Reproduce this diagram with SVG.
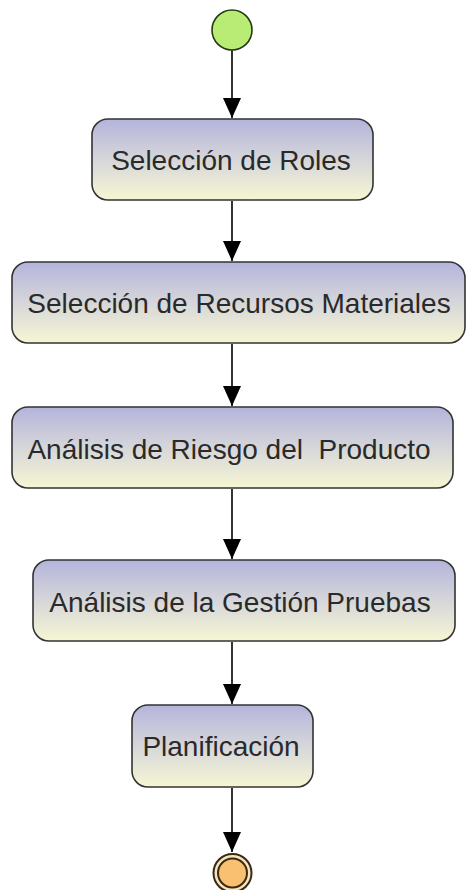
<svg xmlns="http://www.w3.org/2000/svg" width="467" height="890" viewBox="0 0 467 890">
<defs>
<linearGradient id="g" x1="0" y1="0" x2="0" y2="1">
<stop offset="0" stop-color="#b4b4dc"/>
<stop offset="0.5" stop-color="#d6d6da"/>
<stop offset="1" stop-color="#f6f6d4"/>
</linearGradient>
<marker id="ah" markerWidth="20" markerHeight="18" refX="20" refY="9" orient="auto" markerUnits="userSpaceOnUse" viewBox="0 0 20 18">
<path d="M0,0 L20,9 L0,18 Z" fill="#000"/>
</marker>
</defs>
<style>
.box{fill:url(#g);stroke:#333;stroke-width:1.6}
.lbl{font-family:"Liberation Sans",Arial,sans-serif;font-size:28px;fill:#2a2a2a;text-anchor:middle}
.con{stroke:#000;stroke-width:1.6;fill:none}
</style>
<rect width="467" height="890" fill="#fff"/>
<g id="connectors">
<path class="con" d="M232,50 V118" marker-end="url(#ah)"/>
<path class="con" d="M232,201 V261" marker-end="url(#ah)"/>
<path class="con" d="M232,344 V406" marker-end="url(#ah)"/>
<path class="con" d="M232,489 V559" marker-end="url(#ah)"/>
<path class="con" d="M232,642 V704" marker-end="url(#ah)"/>
<path class="con" d="M232,788 V852" marker-end="url(#ah)"/>
</g>
<g id="start">
<circle cx="232" cy="30" r="20" fill="#b8ec74" stroke="#253a12" stroke-width="1.6"/>
</g>
<g id="n1">
<rect class="box" x="92" y="119" width="281" height="81" rx="16"/>
<text class="lbl" x="231" y="170">Selección de Roles</text>
</g>
<g id="n2">
<rect class="box" x="12" y="262" width="453" height="81" rx="16"/>
<text class="lbl" x="239" y="313">Selección de Recursos Materiales</text>
</g>
<g id="n3">
<rect class="box" x="12" y="407" width="441" height="81" rx="16"/>
<text class="lbl" x="229" y="459" xml:space="preserve">Análisis de Riesgo del  Producto</text>
</g>
<g id="n4">
<rect class="box" x="33" y="560" width="422" height="81" rx="16"/>
<text class="lbl" x="240" y="612">Análisis de la Gestión Pruebas</text>
</g>
<g id="n5">
<rect class="box" x="132" y="705" width="181" height="82" rx="16"/>
<text class="lbl" x="221" y="756">Planificación</text>
</g>
<g id="end">
<circle cx="232.5" cy="873" r="19" fill="#f4e4c4" stroke="#3a2a10" stroke-width="2"/>
<circle cx="232.5" cy="873" r="14.5" fill="#f8c070" stroke="#3a2a10" stroke-width="2"/>
</g>
</svg>
